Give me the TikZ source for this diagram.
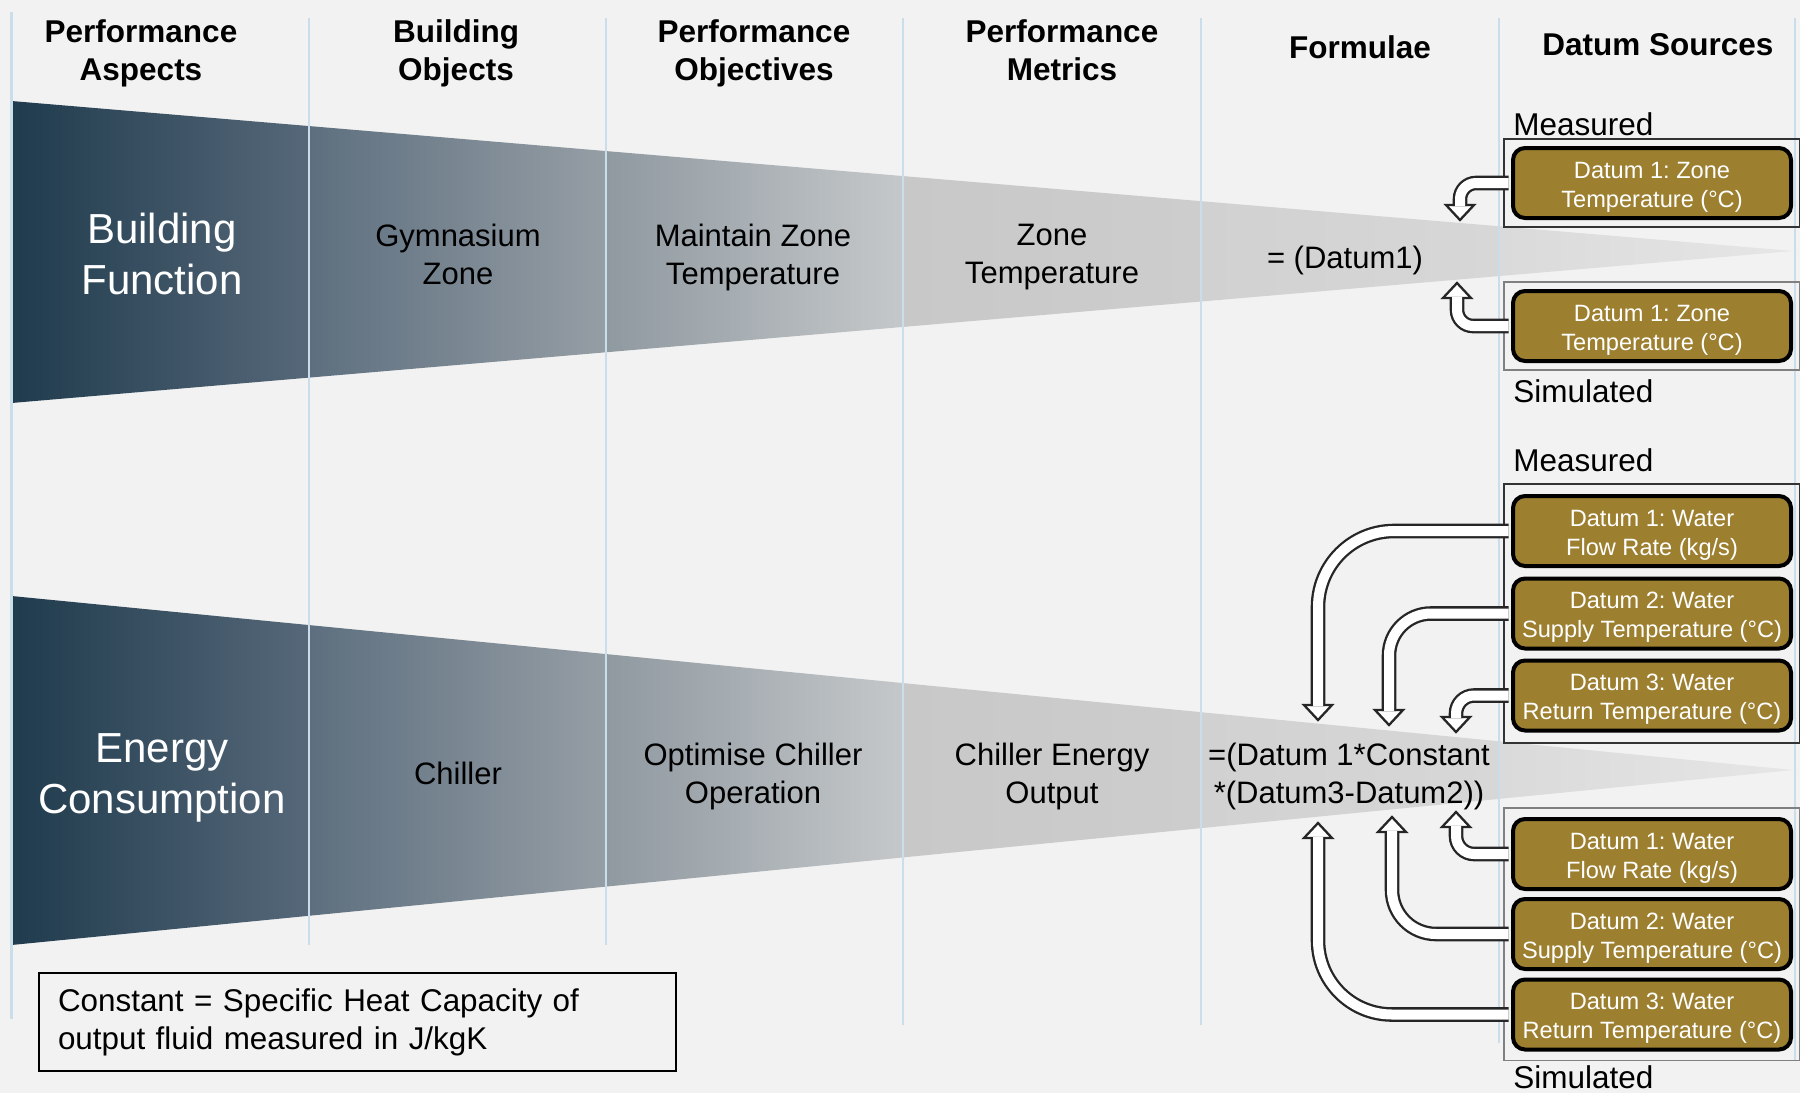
\documentclass[tikz,border=0pt]{standalone}
\usepackage{fontspec}
\setmainfont{Liberation Sans}
\usepackage{xcolor}
\usetikzlibrary{calc,
	positioning,
	fit}
\frenchspacing

\definecolor{bg}{HTML}{F2F2F2}
\definecolor{colline}{HTML}{C9DDEA}
\definecolor{gold}{HTML}{9D7F30}
\definecolor{segAa}{HTML}{1F3B4D}
\definecolor{segAb}{HTML}{566879}
\definecolor{segBa}{HTML}{5D6F7F}
\definecolor{segBb}{HTML}{969EA5}
\definecolor{segCa}{HTML}{8F99A0}
\definecolor{segCb}{HTML}{C5C8CA}
\definecolor{segDa}{HTML}{C8C8C8}
\definecolor{segDb}{HTML}{CDCDCD}
\definecolor{segEa}{HTML}{D1D1D1}
\definecolor{segEb}{HTML}{D7D7D7}
\definecolor{segFa}{HTML}{DADADA}
\definecolor{segFb}{HTML}{E6E6E6}

\tikzstyle{colhead}=[align=center, font=\bfseries\fontsize{15.75}{19}\selectfont]
\tikzstyle{funtext}=[align=center, font=\fontsize{15.5}{19}\selectfont]
\tikzstyle{bigtext}=[align=center, text=white, font=\fontsize{21}{25.25}\selectfont]
\tikzstyle{datum}=[rectangle, rounded corners=6pt, draw=black, line width=2pt,
	fill=gold, text=white, minimum width=139pt, minimum height=35pt,
	inner sep=0, align=center, font=\fontsize{11.8}{14.5}\selectfont,
	execute at begin node={\rule{0pt}{26.5pt}}]
\tikzstyle{srcnote}=[anchor=base west, inner sep=0, font=\fontsize{15.75}{19}\selectfont]
\tikzstyle{mgroup}=[draw=black!80, line width=1pt, inner sep=3.5pt]
\tikzstyle{sgroup}=[draw=black!50, line width=0.6pt, inner sep=3.5pt]
\tikzstyle{sep}=[colline, line width=1.35pt]
\tikzstyle{shaft}=[draw=black!85, line width=1.15pt, double=white, double distance=5pt]
\tikzstyle{ahead}=[draw=black!85, line width=1.15pt, fill=white, line join=miter]
\tikzstyle{legend}=[draw, line width=1pt, align=left, text width=299.5pt,
	inner xsep=9.5pt, minimum height=49pt, font=\fontsize{15.7}{19}\selectfont]

\begin{document}
\begin{tikzpicture}[x=0.5pt, y=-0.5pt]
	\fill[bg] (0,0) rectangle (1800,1093);
	\useasboundingbox (0,0) rectangle (1800,1093);

	% the two funnels, one shaded slice per column
	\foreach \ytop/\ymid/\ybot in {101/251/403, 596/770/945} {
		\begin{scope}
			\clip (11.5,\ytop) -- (1793,\ymid) -- (11.5,\ybot) -- cycle;
			\foreach \xa/\xb/\ca/\cb in {11.5/309/segAa/segAb, 309/606/segBa/segBb,
				606/903/segCa/segCb, 903/1201/segDa/segDb, 1201/1499/segEa/segEb,
				1499/1793/segFa/segFb}
				\shade[left color=\ca, right color=\cb] (\xa,0) rectangle (\xb,1093);
		\end{scope}
	}

	% column separators
	\foreach \x/\ya/\yb in {11.5/12/1019, 309/18/945, 606/18/945, 903/18/1025,
		1201/18/1025, 1499/18/1043, 1795/18/1060}
		\draw[sep] (\x,\ya) -- (\x,\yb);

	% column headings
	\node[colhead] (h1) at (141,53.5) {Performance\\Aspects};
	\node[colhead] (h2) at (456,53.5) {Building\\Objects};
	\node[colhead] (h3) at (754,53.5) {Performance\\Objectives};
	\node[colhead] (h4) at (1062,50) {Performance\\Metrics};
	\node[colhead] (h5) at (1360,47) {Formulae};
	\node[colhead] (h6) at (1658,45) {Datum Sources};

	% upper funnel
	\node[bigtext] (bf) at (162,254) {Building\\Function};
	\node[funtext] (gz) at (458,254) {Gymnasium\\Zone};
	\node[funtext] (mzt) at (753,257) {Maintain Zone\\Temperature};
	\node[funtext] (zt) at (1052,257.5) {Zone\\Temperature};
	\node[funtext] (fa) at (1345,260.5) {= (Datum1)};

	% lower funnel
	\node[bigtext] (ec) at (162,778) {Energy\\Consumption};
	\node[funtext] (ch) at (458,773) {Chiller};
	\node[funtext] (oco) at (753,776.5) {Optimise Chiller\\Operation};
	\node[funtext] (ceo) at (1052,776.5) {Chiller Energy\\Output};
	\node[funtext] (fb) at (1349,776.5) {=(Datum 1*Constant\\*(Datum3-Datum2))};

	\node[legend, anchor=north west] (note) at (38,972)
		{Constant = Specific Heat Capacity of\\output fluid measured in J/kgK};

	% datum sources
	\node[srcnote] (mlabA) at (1513,135) {Measured};
	\node[srcnote] (slabA) at (1513,402) {Simulated};
	\node[srcnote] (mlabB) at (1513,471) {Measured};
	\node[srcnote] (slabB) at (1513,1088) {Simulated};

	\node[datum] (zm) at (1652,183) {Datum 1: Zone\\Temperature (°C)};
	\node[datum] (zs) at (1652,326) {Datum 1: Zone\\Temperature (°C)};
	\node[datum] (wm1) at (1652,531) {Datum 1: Water\\Flow Rate (kg/s)};
	\node[datum] (wm2) at (1652,613.5) {Datum 2: Water\\Supply Temperature (°C)};
	\node[datum] (wm3) at (1652,695.5) {Datum 3: Water\\Return Temperature (°C)};
	\node[datum] (ws1) at (1652,854) {Datum 1: Water\\Flow Rate (kg/s)};
	\node[datum] (ws2) at (1652,934) {Datum 2: Water\\Supply Temperature (°C)};
	\node[datum] (ws3) at (1652,1014.5) {Datum 3: Water\\Return Temperature (°C)};

	\node[mgroup, fit=(zm)] (gzm) {};
	\node[sgroup, fit=(zs)] (gzs) {};
	\node[mgroup, fit=(wm1)(wm3), inner ysep=5pt] (gwm) {};
	\node[sgroup, fit=(ws1)(ws3), inner ysep=4.5pt] (gws) {};

	% arrow tips in the formulae column
	\coordinate (tzm) at (1460,220);
	\coordinate (tzs) at (1457,283);
	\coordinate (ta1) at (1318,720);
	\coordinate (ta2) at (1389,725);
	\coordinate (ta3) at (1456,732);
	\coordinate (tb1) at (1456,812);
	\coordinate (tb2) at (1392,817);
	\coordinate (tb3) at (1318,823);

	% hollow bent arrows: source / tip / corner radius / 1 down, -1 up
	\foreach \src/\tip/\rad/\dir in {zm/tzm/8/1, zs/tzs/8/-1,
		wm1/ta1/38/1, wm2/ta2/21/1, wm3/ta3/9/1,
		ws1/tb1/9/-1, ws2/tb2/22/-1, ws3/tb3/37/-1} {
		\draw[ahead] (\tip) -- ++(-14,-15*\dir) -- ++(28,0) -- cycle;
		\draw[shaft, rounded corners=\rad pt] ($(\src.west)+(-2.5,0)$) -| ($(\tip)+(0,-14*\dir)$);
	}
\end{tikzpicture}
\end{document}
